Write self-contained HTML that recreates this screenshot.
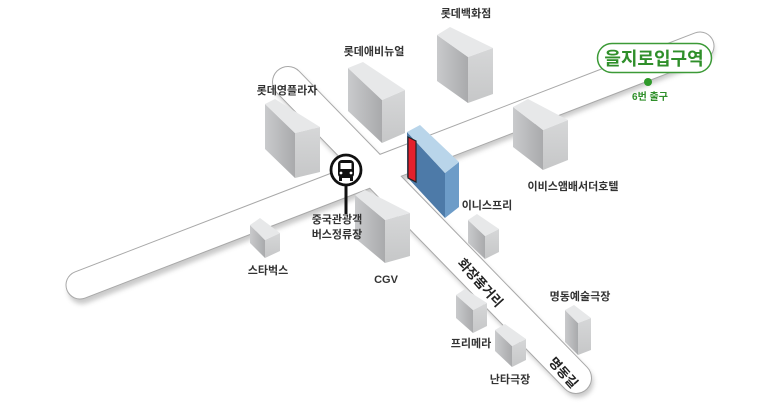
<!DOCTYPE html>
<html><head><meta charset="utf-8"><style>
html,body{margin:0;padding:0;background:#fff;}
svg{display:block;}
text{font-family:"Liberation Sans","Noto Sans CJK KR",sans-serif;font-weight:bold;}
</style></head><body>
<svg width="773" height="419" viewBox="0 0 773 419" xmlns="http://www.w3.org/2000/svg">
<defs>
<filter id="sh" x="-10%" y="-10%" width="130%" height="130%"><feGaussianBlur stdDeviation="2.5"/></filter>
<linearGradient id="lf" x1="0" y1="0" x2="1" y2="0"><stop offset="0" stop-color="#c9cacc"/><stop offset="1" stop-color="#a9aaac"/></linearGradient>
<linearGradient id="rf" x1="0" y1="0" x2="0" y2="1"><stop offset="0" stop-color="#d6d7d8"/><stop offset="1" stop-color="#c6c7c8"/></linearGradient>
</defs>
<g opacity="0.45" filter="url(#sh)">
<line x1="82" y1="290" x2="700" y2="50" stroke="#888" stroke-width="28" stroke-linecap="round"/>
<line x1="290" y1="86" x2="578" y2="382" stroke="#888" stroke-width="31" stroke-linecap="round"/>
</g>
<line x1="80" y1="285" x2="700" y2="46" stroke="#a8a8a8" stroke-width="29" stroke-linecap="round"/>
<line x1="288" y1="82" x2="576" y2="378" stroke="#a8a8a8" stroke-width="32" stroke-linecap="round"/>
<line x1="80" y1="285" x2="700" y2="46" stroke="#fff" stroke-width="27" stroke-linecap="round"/>
<line x1="288" y1="82" x2="576" y2="378" stroke="#fff" stroke-width="30" stroke-linecap="round"/>

<text x="480" y="287" font-size="13" fill="#222" text-anchor="middle" transform="rotate(48 480 283)">화장품거리</text>
<text x="563" y="377" font-size="13" fill="#222" text-anchor="middle" transform="rotate(48 563 373)">명동길</text>

<g>
<!-- Lotte Young Plaza -->
<polygon points="265,104 295,133 295,178 265,149" fill="url(#lf)"/>
<polygon points="295,133 320,127 320,172 295,178" fill="url(#rf)"/>
<polygon points="265,104 275,99 320,127 295,133" fill="#e7e8e9"/>
<!-- Lotte Avenuel -->
<polygon points="348,68 382,100 382,143 348,111" fill="url(#lf)"/>
<polygon points="382,100 405,90 405,133 382,143" fill="url(#rf)"/>
<polygon points="348,68 363,62 405,90 382,100" fill="#e7e8e9"/>
<!-- Lotte Dept -->
<polygon points="437,35 468,57 468,103 437,81" fill="url(#lf)"/>
<polygon points="468,57 493,48 493,94 468,103" fill="url(#rf)"/>
<polygon points="437,35 450,27 493,48 468,57" fill="#e7e8e9"/>
<!-- Ibis -->
<polygon points="513,107 543,130 543,170 513,147" fill="url(#lf)"/>
<polygon points="543,130 568,120 568,160 543,170" fill="url(#rf)"/>
<polygon points="513,107 528,99 568,120 543,130" fill="#e7e8e9"/>
<!-- CGV -->
<polygon points="355,195 385,220 385,263 355,238" fill="url(#lf)"/>
<polygon points="385,220 410,213 410,256 385,263" fill="url(#rf)"/>
<polygon points="355,195 365,190 410,213 385,220" fill="#e7e8e9"/>
<!-- Starbucks -->
<polygon points="250,225 265,240 265,258 250,243" fill="url(#lf)"/>
<polygon points="265,240 280,233 280,251 265,258" fill="url(#rf)"/>
<polygon points="250,225 260,218 280,233 265,240" fill="#e7e8e9"/>
<!-- Innisfree -->
<polygon points="468,220 485,236 485,259 468,243" fill="url(#lf)"/>
<polygon points="485,236 499,229 499,252 485,259" fill="url(#rf)"/>
<polygon points="468,220 477,214 499,229 485,236" fill="#e7e8e9"/>
<!-- Primera -->
<polygon points="456,295 473,310 473,333 456,318" fill="url(#lf)"/>
<polygon points="473,310 487,303 487,326 473,333" fill="url(#rf)"/>
<polygon points="456,295 465,289 487,303 473,310" fill="#e7e8e9"/>
<!-- Nanta -->
<polygon points="495,330 512,346 512,367 495,351" fill="url(#lf)"/>
<polygon points="512,346 526,339 526,360 512,367" fill="url(#rf)"/>
<polygon points="495,330 505,324 526,339 512,346" fill="#e7e8e9"/>
<!-- Myeongdong art -->
<polygon points="565,310 578,323 578,355 565,342" fill="url(#lf)"/>
<polygon points="578,323 591,318 591,350 578,355" fill="url(#rf)"/>
<polygon points="565,310 574,305 591,318 578,323" fill="#e7e8e9"/>
</g>
<!-- Blue building -->
<polygon points="407,132 445,173 445,218 407,177" fill="#4d7aa8"/>
<polygon points="445,173 459,162 459,207 445,218" fill="#6d9cc8"/>
<polygon points="407,132 420,125 459,162 445,173" fill="#b9d5ea"/>
<polygon points="408,137 416,141 416,182 408,178" fill="#e4202c" stroke="#222" stroke-width="1.2"/>

<!-- Bus stop -->
<line x1="346" y1="184" x2="346" y2="214" stroke="#111" stroke-width="3"/>
<circle cx="346" cy="170" r="15" fill="#fff" stroke="#111" stroke-width="2.8"/>
<rect x="338" y="160" width="16" height="18" rx="4" fill="#111"/>
<rect x="340.5" y="163" width="11" height="6" fill="#fff"/>
<circle cx="341" cy="173" r="1.4" fill="#fff"/>
<circle cx="351" cy="173" r="1.4" fill="#fff"/>
<rect x="339" y="177" width="3" height="4" fill="#111"/>
<rect x="350" y="177" width="3" height="4" fill="#111"/>

<!-- Station -->
<rect x="597.5" y="43.5" width="114" height="29" rx="14.5" fill="#fff" stroke="#3c9a37" stroke-width="1.5"/>
<text x="654" y="65" font-size="18" fill="#2f8f2a" text-anchor="middle">을지로입구역</text>
<circle cx="648" cy="82" r="4" fill="#2f9a2a"/>
<text x="650" y="100" font-size="10" fill="#2f8f2a" text-anchor="middle">6번 출구</text>

<g font-size="11" fill="#333" text-anchor="middle">
<text x="466" y="17">롯데백화점</text>
<text x="374" y="55">롯데애비뉴얼</text>
<text x="287" y="94">롯데영플라자</text>
<text x="573" y="190">이비스앰배서더호텔</text>
<text x="487" y="209">이니스프리</text>
<text x="337" y="223">중국관광객</text>
<text x="337" y="238">버스정류장</text>
<text x="268" y="274">스타벅스</text>
<text x="386" y="283">CGV</text>
<text x="580" y="300">명동예술극장</text>
<text x="471" y="347">프리메라</text>
<text x="510" y="383">난타극장</text>
</g>
</svg>
</body></html>
